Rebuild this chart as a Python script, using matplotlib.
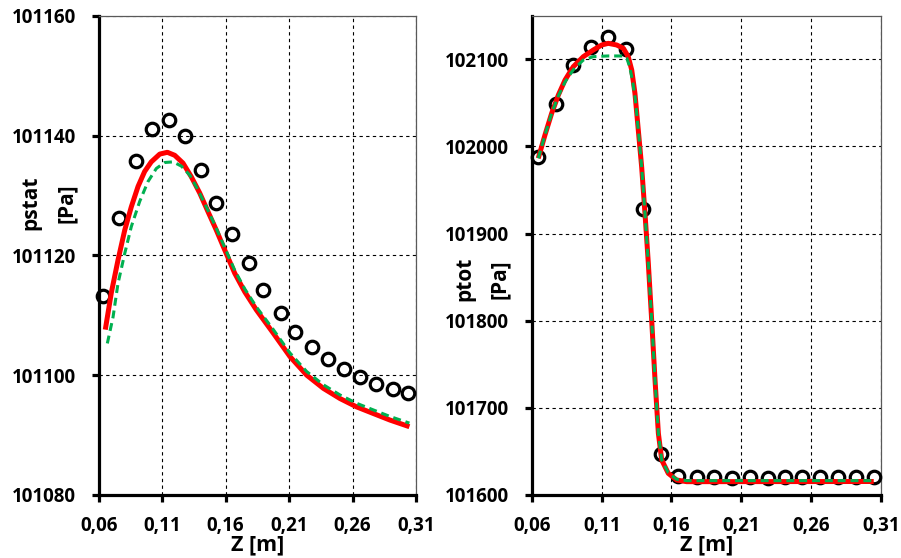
import matplotlib
matplotlib.use("Agg")
import matplotlib.pyplot as plt

plt.rcParams['font.family'] = ['Open Sans', 'DejaVu Sans']

# ---------------- data ----------------
z_exp = [0.0636, 0.0762, 0.0894, 0.1022, 0.1152, 0.1280, 0.1404, 0.1527, 0.1653, 0.1782,
         0.1897, 0.2034, 0.2147, 0.2283, 0.2409, 0.2533, 0.2659, 0.2785, 0.2922, 0.3040]
pstat_exp = [101113.2, 101126.3, 101135.7, 101141.1, 101142.6, 101140.0, 101134.3, 101128.7,
             101123.5, 101118.7, 101114.2, 101110.3, 101107.2, 101104.7, 101102.7, 101101.0,
             101099.7, 101098.5, 101097.7, 101097.0]

z_red_l = [0.0652, 0.0699, 0.0752, 0.0805, 0.0857, 0.0910, 0.0962, 0.1014, 0.1081, 0.1141,
           0.1199, 0.1264, 0.1330, 0.1396, 0.1461, 0.1527, 0.1593, 0.1672, 0.1751, 0.1842,
           0.1976, 0.2107, 0.2239, 0.2370, 0.2501, 0.2633, 0.2764, 0.2896, 0.3048]
pstat_red = [101107.6, 101113.7, 101119.2, 101124.2, 101128.1, 101131.5, 101134.0, 101135.6,
             101136.9, 101137.2, 101136.7, 101135.4, 101133.1, 101130.4, 101127.3, 101124.2,
             101120.9, 101117.0, 101113.9, 101110.9, 101107.0, 101103.1, 101100.0, 101097.8,
             101096.1, 101094.7, 101093.6, 101092.5, 101091.4]

z_grn_l = [0.0668, 0.0713, 0.0752, 0.0805, 0.0857, 0.0923, 0.0988, 0.1054, 0.1120, 0.1186,
           0.1251, 0.1317, 0.1383, 0.1461, 0.1527, 0.1593, 0.1672, 0.1751, 0.1842,
           0.1976, 0.2107, 0.2239, 0.2370, 0.2501, 0.2633, 0.2764, 0.2896, 0.3048]
pstat_grn = [101105.3, 101109.7, 101115.3, 101120.3, 101124.8, 101129.0, 101132.3, 101134.5,
             101135.5, 101135.6, 101134.9, 101133.4, 101130.9, 101127.5, 101124.5,
             101121.3, 101117.5, 101114.4, 101111.4, 101107.6, 101103.7, 101100.6, 101098.4,
             101096.7, 101095.3, 101094.2, 101093.1, 101092.0]

z_exp_r = [0.0641, 0.0772, 0.0896, 0.1025, 0.1147, 0.1272, 0.1398, 0.1525, 0.1649, 0.1781,
           0.1907, 0.2032, 0.2163, 0.2294, 0.2414, 0.2538, 0.2665, 0.2792, 0.2923, 0.3052]
ptot_exp = [101987.5, 102048.4, 102093.1, 102113.8, 102125.9, 102111.5, 101928.2, 101647.0,
            101621.8, 101620.3, 101620.3, 101620.0, 101621.0, 101620.0, 101621.0, 101621.0,
            101621.0, 101621.0, 101621.0, 101621.0]

z_red_r = [0.0645, 0.0693, 0.0741, 0.0789, 0.0837, 0.0896, 0.0968, 0.1040, 0.1100, 0.1147,
           0.1207, 0.1255, 0.1290, 0.1315, 0.1338, 0.1362, 0.1386, 0.1410, 0.1434, 0.1458,
           0.1482, 0.1506, 0.1530, 0.1577, 0.1637, 0.1709, 0.3050]
ptot_red = [101986.4, 102013.1, 102038.0, 102059.0, 102076.2, 102091.5, 102103.0, 102110.7,
            102116.4, 102118.3, 102116.4, 102112.6, 102103.0, 102087.7, 102061.0, 102018.9,
            101976.8, 101923.3, 101865.9, 101800.8, 101732.0, 101670.8, 101640.2, 101624.9,
            101617.2, 101615.3, 101615.5]

z_grn_r = [0.0645, 0.0693, 0.0741, 0.0789, 0.0837, 0.0896, 0.0968, 0.1040, 0.1100, 0.1147,
           0.1207, 0.1255, 0.1280, 0.1300, 0.1320, 0.1340, 0.1362, 0.1386, 0.1410, 0.1434,
           0.1458, 0.1482, 0.1506, 0.1530, 0.1577, 0.1637, 0.1709, 0.3050]
ptot_grn = [101986.4, 102013.1, 102038.0, 102058.0, 102074.0, 102088.0, 102099.2, 102103.0,
            102103.5, 102103.8, 102103.8, 102103.8, 102101.1, 102091.5, 102076.0, 102055.0,
            102018.9, 101976.8, 101923.3, 101865.9, 101800.8, 101732.0, 101670.8, 101640.2,
            101625.5, 101618.0, 101616.5, 101616.5]

xticks = [0.06, 0.11, 0.16, 0.21, 0.26, 0.31]
xticklabels = ["0,06", "0,11", "0,16", "0,21", "0,26", "0,31"]
yticks_l = [101080, 101100, 101120, 101140, 101160]
yticks_r = [101600, 101700, 101800, 101900, 102000, 102100]

# ---------------- figure ----------------
fig = plt.figure(figsize=(9.01, 5.58), dpi=100)
axL = fig.add_axes([98.7 / 901, 63 / 558, 317.3 / 901, 479.3 / 558])
axR = fig.add_axes([532 / 901, 63 / 558, 348.7 / 901, 479.3 / 558])

RED = '#FF0000'
GRN = '#00B050'
FS = 13.5

def style(ax, yticks, ylim, ylabel, lab_xy):
    ax.set_xlim(0.06, 0.31)
    ax.set_ylim(*ylim)
    ax.set_xticks(xticks)
    ax.set_xticklabels(xticklabels)
    ax.set_yticks(yticks)
    ax.set_yticklabels([str(v) for v in yticks])
    ax.grid(True, color='black', linestyle=(0, (3, 3)), linewidth=0.8)
    ax.set_axisbelow(True)
    for s in ['left', 'bottom']:
        ax.spines[s].set_linewidth(2.3)
        ax.spines[s].set_color('black')
    for s in ['top', 'right']:
        ax.spines[s].set_linewidth(0.9)
        ax.spines[s].set_color('#595959')
    ax.tick_params(axis='both', direction='out', length=5, width=2.3, color='black',
                   labelsize=FS, top=False, right=False)
    ax.tick_params(axis='x', pad=10)
    ax.tick_params(axis='y', pad=11.5)
    for lab in ax.get_xticklabels() + ax.get_yticklabels():
        lab.set_fontweight('bold')
    ax.set_xlabel("Z [m]", fontsize=15.5, fontweight='bold', labelpad=-1)
    ax.set_ylabel(ylabel, fontsize=15, fontweight='bold', linespacing=1.9,
                  multialignment='center', va='center')
    ax.yaxis.set_label_coords(*lab_xy)

style(axL, yticks_l, (101080, 101160), "pstat\n[Pa]", (-0.157, 0.609))
style(axR, yticks_r, (101600, 102150), "ptot\n[Pa]", (-0.143, 0.451))

for ax, ze, pe, zr, pr, zg, pg in [
        (axL, z_exp, pstat_exp, z_red_l, pstat_red, z_grn_l, pstat_grn),
        (axR, z_exp_r, ptot_exp, z_red_r, ptot_red, z_grn_r, ptot_grn)]:
    ax.plot(ze, pe, linestyle='none', marker='o', markersize=9, markerfacecolor='none',
            markeredgecolor='black', markeredgewidth=2.3, zorder=3, clip_on=False)
    ax.plot(zr, pr, color=RED, linewidth=3.6, zorder=4, solid_capstyle='butt',
            solid_joinstyle='round')
    ax.plot(zg, pg, color=GRN, linewidth=2.2, linestyle=(0, (2.6, 1.6)), zorder=5)

fig.savefig("out.png", dpi=100)
